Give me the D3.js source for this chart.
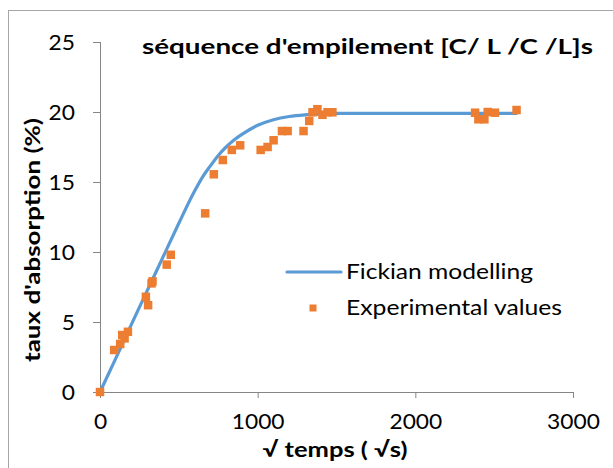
<!DOCTYPE html>
<html>
<head>
<meta charset="utf-8">
<script src="https://cdn.jsdelivr.net/npm/d3@7"></script>
<style>
html,body{margin:0;padding:0;background:#fff;}
svg{display:block;}
text{font-family:Lato, "Open Sans", sans-serif;fill:#000;}
</style>
</head>
<body>
<svg id="chart" width="613" height="468"></svg>
<script>
// Experimental values (√s, %)
const expX = [0, 90, 128, 141, 156, 177, 291, 305, 327, 333, 423, 449, 667, 722, 779, 836, 889, 1019, 1063, 1101, 1154, 1190, 1291, 1327, 1348, 1379, 1411, 1443, 1474, 2379, 2400, 2438, 2459, 2505, 2642];
const expY = [0, 3.0, 3.43, 4.07, 3.83, 4.3, 6.8, 6.2, 7.76, 7.9, 9.1, 9.8, 12.76, 15.55, 16.57, 17.29, 17.62, 17.29, 17.5, 17.98, 18.64, 18.64, 18.64, 19.36, 19.98, 20.2, 19.8, 19.98, 19.98, 19.95, 19.48, 19.48, 20.0, 19.95, 20.14];
// Fickian modelling curve
const fickX = [0, 100, 200, 300, 400, 500, 600, 650, 700, 750, 800, 850, 900, 1000, 1100, 1200, 1300, 1400, 1500, 2000, 2640];
const fickY = [0, 2.4, 4.85, 7.25, 9.65, 12.05, 14.35, 15.35, 16.15, 16.9, 17.5, 18.0, 18.4, 19.05, 19.45, 19.68, 19.8, 19.86, 19.9, 19.9, 19.9];
const xTicks = [0, 1000, 2000, 3000];
const yTicks = [0, 5, 10, 15, 20, 25];
const titleText = "séquence d'empilement [C/ L /C /L]s";
const xTitle = "√ temps ( √s)";
const yTitle = "taux d'absorption (%)";
const legendLabels = ["Fickian modelling", "Experimental values"];

const svg = d3.select("#chart");
const x = d3.scaleLinear().domain([0, 3000]).range([100, 573]);
const y = d3.scaleLinear().domain([0, 25]).range([392, 42]);
const axisColor = "#868686";

// outer frame
svg.append("rect").attr("x", 8.5).attr("y", 10.5).attr("width", 700).attr("height", 600)
  .attr("fill", "none").attr("stroke", "#a6a6a6").attr("stroke-width", 1);

// axes
const gx = svg.append("g").attr("transform", `translate(0,${y(0)})`)
  .call(d3.axisBottom(x).tickValues(xTicks).tickFormat(d3.format("d")).tickSize(6).tickSizeOuter(0).tickPadding(15));
const gy = svg.append("g").attr("transform", `translate(${x(0)},0)`)
  .call(d3.axisLeft(y).tickValues(yTicks).tickFormat(d3.format("d")).tickSize(7).tickSizeOuter(0).tickPadding(18));
[gx, gy].forEach(g => {
  g.select(".domain").attr("stroke", axisColor);
  g.selectAll(".tick line").attr("stroke", axisColor);
  g.selectAll(".tick text").attr("font-family", "Lato").attr("font-size", 22).attr("fill", "#000")
    .each(function(){ const s = d3.select(this); s.attr("textLength", s.text().length * 13.2).attr("lengthAdjust", "spacingAndGlyphs"); });
});
gy.select(".domain").attr("d", `M0.5,${y(0)}V${y(25)}`);

// fickian line
const line = d3.line().x((d, i) => x(fickX[i])).y((d, i) => y(fickY[i])).curve(d3.curveMonotoneX);
svg.append("path").datum(fickY).attr("d", line).attr("fill", "none")
  .attr("stroke", "#5B9BD5").attr("stroke-width", 3.2).attr("stroke-linejoin", "round").attr("stroke-linecap", "round");

// experimental markers
const ms = 8.5;
svg.append("g").selectAll("rect").data(expY).join("rect")
  .attr("x", (d, i) => x(expX[i]) - ms / 2).attr("y", d => y(d) - ms / 2)
  .attr("width", ms).attr("height", ms).attr("fill", "#ED7D31");

// title
svg.append("text").attr("x", 142).attr("y", 54).attr("font-size", 21).attr("font-weight", "bold")
  .attr("textLength", 451).attr("lengthAdjust", "spacingAndGlyphs").text(titleText);

// axis titles
svg.append("text").attr("x", 335).attr("y", 457).attr("text-anchor", "middle").attr("font-size", 21).attr("font-weight", "bold")
  .attr("textLength", 145).attr("lengthAdjust", "spacingAndGlyphs").text(xTitle);
svg.append("text").attr("transform", "translate(40,240) rotate(-90)").attr("text-anchor", "middle").attr("font-size", 21).attr("font-weight", "bold")
  .attr("textLength", 244).attr("lengthAdjust", "spacingAndGlyphs").text(yTitle);

// legend
const lg = svg.append("g");
lg.append("line").attr("x1", 287).attr("x2", 341).attr("y1", 272).attr("y2", 272)
  .attr("stroke", "#5B9BD5").attr("stroke-width", 3.2).attr("stroke-linecap", "round");
lg.append("rect").attr("x", 313 - 3.5).attr("y", 308 - 3.5).attr("width", 7).attr("height", 7).attr("fill", "#ED7D31");
const lw = [187, 216];
legendLabels.forEach((t, i) => {
  lg.append("text").attr("x", 346).attr("y", 272 + i * 36).attr("dy", "0.35em").attr("font-size", 21)
    .attr("textLength", lw[i]).attr("lengthAdjust", "spacingAndGlyphs").text(t);
});
</script>
</body>
</html>
